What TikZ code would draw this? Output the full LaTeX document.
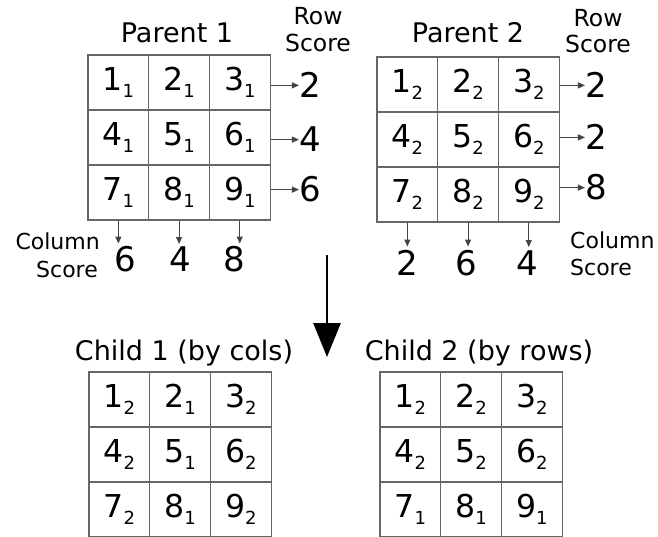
\documentclass[tikz,border=0pt]{standalone}
\usepackage{fontspec}
\setmainfont{DejaVu Sans}
\usetikzlibrary{arrows.meta}
\definecolor{gridgray}{HTML}{666666}
\definecolor{arrowgray}{HTML}{444444}
% a digit with a small lowered index
\newcommand\cel[2]{#1\raisebox{-7pt}{\fontsize{18}{18}\selectfont #2}}
% a 3x3 board: name, left x, top y, list of the nine indices
\newcommand\gridof[4]{%
  \foreach \s [count=\i from 0] in {#4} {
    \pgfmathtruncatemacro\rr{div(\i,3)+1}
    \pgfmathtruncatemacro\cc{mod(\i,3)+1}
    \pgfmathtruncatemacro\nn{\i+1}
    \node[cell] (#1\rr\cc) at ({#2+(\cc-0.5)*60.7},{#3+(\rr-0.5)*55}) {\cel{\nn}{\s}};
  }}

\begin{document}
\begin{tikzpicture}[x=1pt,y=-1pt,
  cell/.style={draw=gridgray, line width=1.1pt, minimum width=60.7pt,
    minimum height=55pt, inner sep=0pt, font=\fontsize{31.5}{32}\selectfont},
  title/.style={font=\fontsize{27}{27}\selectfont, anchor=base, inner sep=0pt},
  rlabel/.style={font=\fontsize{23.5}{24}\selectfont, anchor=base, inner sep=0pt},
  clabel/.style={font=\fontsize{22}{22}\selectfont, inner sep=0pt},
  score/.style={font=\fontsize{34}{34}\selectfont, anchor=base, inner sep=0pt},
  tick/.style={draw=arrowgray, line width=1pt, -{Triangle[length=7pt,width=6pt]}},
  big/.style={line width=2.8pt, -{Triangle[length=34pt,width=27pt]}}
]
\useasboundingbox (0,0) rectangle (658,537);

% boards
\gridof{pa}{88}{55}{1,1,1,1,1,1,1,1,1}
\gridof{pb}{377}{57}{2,2,2,2,2,2,2,2,2}
\gridof{ca}{89}{372}{2,1,2,2,1,2,2,1,2}
\gridof{cb}{380}{372}{2,2,2,2,2,2,1,1,1}

% titles
\node[title] (ta) at (177,43) {Parent 1};
\node[title] (tb) at (468,43) {Parent 2};
\node[title] (tc) at (184,360) {Child 1 (by cols)};
\node[title] (td) at (479,360) {Child 2 (by rows)};

% row score headings
\node[rlabel] (rowa) at (318,25) {Row};
\node[rlabel] (scra) at (318,52) {Score};
\node[rlabel] (rowb) at (598,27) {Row};
\node[rlabel] (scrb) at (598,53) {Score};

% column score headings
\node[clabel, anchor=base east] (cola) at (100,250) {Column};
\node[clabel, anchor=base east] (csca) at (98,277) {Score};
\node[clabel, anchor=base west] (colb) at (570,248) {Column};
\node[clabel, anchor=base west] (cscb) at (570,275) {Score};

% row scores
\node[score] (ra1) at (310,98) {2};
\node[score] (ra2) at (310,152) {4};
\node[score] (ra3) at (310,202) {6};
\node[score] (rb1) at (596,98) {2};
\node[score] (rb2) at (596,150) {2};
\node[score] (rb3) at (596,200) {8};

% column scores
\node[score] (ka1) at (125,272) {6};
\node[score] (ka2) at (180,272) {4};
\node[score] (ka3) at (234,272) {8};
\node[score] (kb1) at (407,275) {2};
\node[score] (kb2) at (466,275) {6};
\node[score] (kb3) at (527,275) {4};

% row arrows
\foreach \r in {1,2,3} {
  \draw[tick] (pa\r3.east |- ra\r.west) -- (ra\r.west);
  \draw[tick] (pb\r3.east |- rb\r.west) -- (rb\r.west);
}
% column arrows
\foreach \c in {1,2,3} {
  \draw[tick, shorten >=3pt] (pa3\c.south) -- (pa3\c.south |- ka\c.north);
  \draw[tick, shorten >=3pt] (pb3\c.south) -- (pb3\c.south |- kb\c.north);
}

% crossover arrow
\coordinate (bigtop) at (327,255);
\coordinate (bigtip) at (327,357);
\draw[big] (bigtop) -- (bigtip);
\end{tikzpicture}
\end{document}
